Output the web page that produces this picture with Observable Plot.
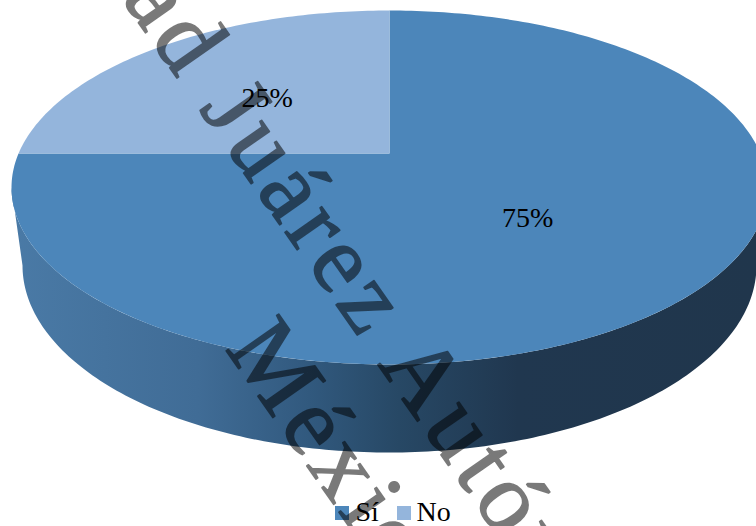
<!DOCTYPE html>
<html><head><meta charset="utf-8">
<style>
html,body{margin:0;padding:0;background:#fff;overflow:hidden}
svg{display:block}
g[font-size="98"]{letter-spacing:6px}
</style>
<script src="https://cdn.jsdelivr.net/npm/d3@7"></script>
<script src="https://cdn.jsdelivr.net/npm/@observablehq/plot@0.6"></script>
</head><body><script>
// data
const categories = ["Sí", "No"];
const shares = [75, 25];
const labels = ["75%", "25%"];
const colors = ["#4c86ba", "#94b5dc"];
const watermarkLines = ["Universidad Juárez Autónoma de Tabasco", "México"];

// layout
const W = 756, H = 526;
const top_ = {cx: 389, cy: 187, rx: 378, ry: 177, k: 0.192};
const bottom_ = {cx: 389, cy: 265, rx: 367, ry: 187};
const labelT = [0.455, 0.53];

// perspective projection of a point of the unit circle (clockwise from 12 o'clock)
function rim(f, e = top_) {
  const a = f * 2 * Math.PI, u = Math.sin(a), v = Math.cos(a);
  const d = 1 + top_.k * v;
  return [e.cx + e.rx * u * Math.sqrt(1 - top_.k ** 2) / d, e.cy - e.ry * (v + top_.k) / d];
}
const hub = [top_.cx, top_.cy - top_.ry * top_.k];
const fractions = d3.cumsum(shares.map(s => s / d3.sum(shares)));
const slices = categories.map((c, i) => {
  const f0 = i ? fractions[i - 1] : 0, f1 = fractions[i];
  const n = Math.ceil((f1 - f0) * 360);
  const pts = [hub, ...d3.range(n + 1).map(j => rim(f0 + (f1 - f0) * j / n)), hub];
  const m = rim((f0 + f1) / 2);
  return {c, i, pts, label: [hub[0] + (m[0] - hub[0]) * labelT[i], hub[1] + (m[1] - hub[1]) * labelT[i]]};
});

// outer wall
const ell = (e, deg) => [e.cx + e.rx * Math.cos(deg * Math.PI / 180), e.cy + e.ry * Math.sin(deg * Math.PI / 180)];
const wall = [
  ...d3.range(0, 181).map(d => ell(top_, d)),
  ...d3.range(180, -1, -1).map(d => ell(bottom_, d))
];
const wallStops = [[0, "#4a7aa6"], [0.25, "#406c96"], [0.4, "#31597e"], [0.52, "#274865"], [0.68, "#20374f"], [1, "#20364c"]];
const defs = () => {
  const s = d3.create("svg:defs");
  const g = s.append("linearGradient").attr("id", "wallGrad").attr("gradientUnits", "userSpaceOnUse")
    .attr("x1", 11).attr("x2", 756).attr("y1", 0).attr("y2", 0);
  wallStops.forEach(([o, c]) => g.append("stop").attr("offset", o).attr("stop-color", c));
  return s.node();
};

const font = "'Liberation Serif','Times New Roman',serif";
const legendX = [335, 397], legendTextX = [355, 416];
const mark = {rotate: 55, textAnchor: "start", lineAnchor: "bottom", fontSize: 98, fill: "#000", stroke: "#000", strokeWidth: 1.6, opacity: 0.52};

const chart = Plot.plot({
  width: W, height: H, margin: 0,
  x: {domain: [0, W], range: [0, W], axis: null},
  y: {domain: [0, H], range: [0, H], axis: null},
  style: {background: "#fff", fontFamily: font, overflow: "hidden"},
  marks: [
    defs,
    Plot.line(wall, {x: d => d[0], y: d => d[1], fill: "url(#wallGrad)", stroke: null}),
    ...slices.map(s => Plot.line(s.pts, {x: d => d[0], y: d => d[1], fill: colors[s.i], stroke: null})),
    Plot.text(slices, {x: d => d.label[0], y: d => d.label[1] + 1, text: d => labels[d.i], fontSize: 28, fill: "#000"}),
    Plot.rect(categories, {x1: (d, i) => legendX[i], x2: (d, i) => legendX[i] + 14, y1: 506, y2: 520, fill: (d, i) => colors[i]}),
    Plot.text(categories, {x: (d, i) => legendTextX[i], y: 512, text: d => d, textAnchor: "start", fontSize: 28, fill: "#000"}),
    Plot.text([watermarkLines[0]], {x: -132, y: -363, text: d => d, ...mark}),
    Plot.text([watermarkLines[1]], {x: 224, y: 348, text: d => d, ...mark})
  ]
});
document.body.appendChild(chart);
</script></body></html>
